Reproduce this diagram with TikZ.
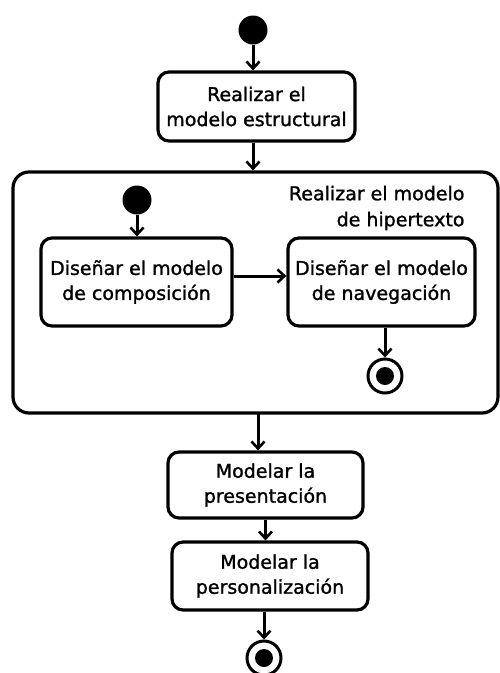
\documentclass[tikz,border=0pt]{standalone}
\usepackage{fontspec}
\setmainfont{DejaVu Sans}
\newfontfamily\diagfont[FakeBold=1.3]{DejaVu Sans}
\usetikzlibrary{arrows.meta, positioning}

\begin{document}
\begin{tikzpicture}[
    x=1pt, y=-1pt,
    flow/.style={
        line width=3pt,
        -{Straight Barb[length=7pt, width=13pt, line width=2.6pt]},
    },
    activity/.style={
        draw,
        line width=3.2pt,
        rounded corners=11pt,
        align=center,
        inner sep=0pt,
        font=\diagfont\fontsize{19}{25}\selectfont,
    },
    initial/.style={
        circle,
        fill=black,
        minimum size=29pt,
        inner sep=0pt,
    },
    final/.style={
        circle,
        draw,
        line width=3pt,
        minimum size=34pt,
        inner sep=0pt,
        path picture={\fill (path picture bounding box.center) circle (9pt);},
    },
    caption/.style={
        align=right,
        anchor=east,
        font=\diagfont\fontsize{19}{26}\selectfont,
    }
]
    \useasboundingbox (0,0) rectangle (500,673);

    % Start
    \node[initial] (start) at (253,30) {};
    \node[activity, minimum width=197pt, minimum height=69pt] (structural) at (256.5,106.5)
        {Realizar el\\modelo estructural};

    % Hypertext model
    \node[draw, line width=3.2pt, rounded corners=16pt, minimum width=485pt, minimum height=241pt,
        inner sep=0pt] (hypertext) at (255.5,292.5) {};
    \node[caption] (hyperlabel) at (468,208) {Realizar el modelo\\de hipertexto};
    \node[initial] (innerstart) at (137,200) {};
    \node[activity, minimum width=191pt, minimum height=88pt] (composition) at (136.5,282)
        {Diseñar el modelo\\de composición};
    \node[activity, minimum width=187pt, minimum height=88pt] (navigation) at (381.5,282)
        {Diseñar el modelo\\de navegación};
    \node[final] (innerend) at (385,376) {};

    % Presentation and personalization
    \node[activity, minimum width=195pt, minimum height=66pt] (presentation) at (265.5,485)
        {Modelar la\\presentación};
    \node[activity, minimum width=196pt, minimum height=68pt] (personalization) at (270,576)
        {Modelar la\\personalización};
    \node[final] (end) at (264,658) {};

    % Transitions
    \coordinate (hyperout) at (258,413);
    \draw[flow] (start) -- (start |- structural.north);
    \draw[flow] (structural.south -| start) -- (start |- hypertext.north);
    \draw[flow] (innerstart) -- (innerstart |- composition.north);
    \draw[flow] ([yshift=6pt]composition.east) -- ([yshift=6pt]navigation.west);
    \draw[flow] (navigation.south -| innerend) -- (innerend);
    \draw[flow] (hyperout) -- (hyperout |- presentation.north);
    \draw[flow] (presentation.south) -- (presentation.south |- personalization.north);
    \draw[flow] (personalization.south -| end) -- (end);
\end{tikzpicture}
\end{document}
